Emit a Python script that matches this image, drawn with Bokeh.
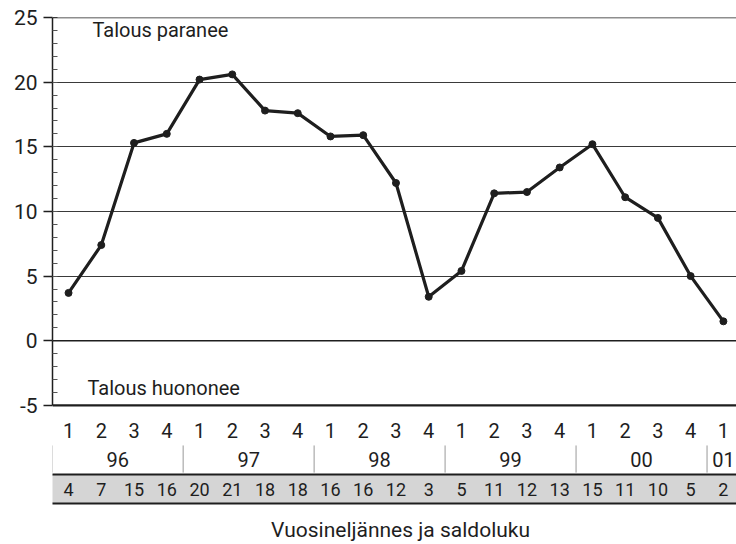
from bokeh.plotting import figure
from bokeh.models import Range1d, SingleIntervalTicker, FixedTicker, Span
from bokeh.core.properties import value
from bokeh.embed import file_html
from bokeh.resources import INLINE

# ---- data ----
quarters = ["1", "2", "3", "4"] * 5 + ["1"]
years = ["96", "97", "98", "99", "00", "01"]
year_quarters = [4, 4, 4, 4, 4, 1]
saldo_index = [3.7, 7.4, 15.3, 16.0, 20.2, 20.6, 17.8, 17.6, 15.8, 15.9, 12.2,
               3.4, 5.4, 11.4, 11.5, 13.4, 15.2, 11.1, 9.5, 5.0, 1.5]
saldo_rounded = [4, 7, 15, 16, 20, 21, 18, 18, 16, 16, 12, 3, 5, 11, 12, 13, 15, 11, 10, 5, 2]
y_min, y_max = -5, 25
label_up = "Talous paranee"
label_down = "Talous huononee"
x_title = "Vuosineljännes ja saldoluku"

FNAME = "Roboto"
FONT = value(FNAME)
INK = "#1e1e1e"

x = list(range(len(saldo_index)))

p = figure(width=736, height=544, x_range=Range1d(-0.49, 20.4), y_range=Range1d(-15.76, 25),
           output_backend="svg", toolbar_location=None, x_axis_location=None,
           min_border_left=52, min_border_right=0, min_border_top=17, min_border_bottom=0)
p.outline_line_color = None
p.background_fill_color = "white"
p.border_fill_color = "white"
p.xgrid.visible = False

# y axis
ax = p.yaxis[0]
ax.ticker = SingleIntervalTicker(interval=5, num_minor_ticks=5)
ax.bounds = (y_min, y_max)
ax.major_label_overrides = {-5: "-5"}
ax.major_tick_in = 0
ax.major_tick_out = 9
ax.minor_tick_in = 5
ax.minor_tick_out = 0
ax.major_label_standoff = 6
ax.axis_line_width = 1.5
ax.axis_line_color = INK
ax.major_tick_line_color = INK
ax.major_tick_line_width = 1.5
ax.minor_tick_line_color = "#555555"
ax.major_label_text_font = FNAME
ax.major_label_text_font_size = "21px"
ax.major_label_text_color = INK

# grid
p.ygrid.ticker = FixedTicker(ticks=[5, 10, 15, 20])
p.ygrid.grid_line_color = "#3a3a3a"
p.ygrid.grid_line_width = 1
p.add_layout(Span(location=y_max, dimension="width", line_color=INK, line_width=1.5))
p.add_layout(Span(location=0, dimension="width", line_color=INK, line_width=1.5))
p.add_layout(Span(location=y_min, dimension="width", line_color=INK, line_width=2.2))

# series
p.line(x, saldo_index, line_width=3.2, line_color=INK)
p.scatter(x, saldo_index, size=7, color=INK)

# annotations inside plot
p.text(x=[0.73], y=[24.0], text=[label_up], text_font=FONT, text_font_size="20px",
       text_color=INK, text_baseline="middle", text_align="left")
p.text(x=[0.58], y=[-3.69], text=[label_down], text_font=FONT, text_font_size="20px",
       text_color=INK, text_baseline="middle", text_align="left")

# quarter row
p.text(x=x, y=[-6.94] * len(x), text=quarters, text_font=FONT, text_font_size="20px",
       text_color=INK, text_baseline="middle", text_align="center")

# year row
starts = []
s = 0
for n in year_quarters:
    starts.append(s)
    s += n
centers = [st + (n - 1) / 2 for st, n in zip(starts, year_quarters)]
p.text(x=centers, y=[-9.18] * len(years), text=years, text_font=FONT, text_font_size="20px",
       text_color=INK, text_baseline="middle", text_align="center")
seps = [st - 0.5 for st in starts]
p.segment(x0=seps, y0=[-8.1] * len(seps), x1=seps, y1=[-10.2] * len(seps),
          line_color="#999999", line_width=1)

# saldo band
p.quad(left=[-0.6], right=[20.6], bottom=[-12.59], top=[-10.34],
       fill_color="#d5d5d5", line_color=None)
p.segment(x0=[-0.6, -0.6], y0=[-10.34, -12.59], x1=[20.6, 20.6], y1=[-10.34, -12.59],
          line_color=INK, line_width=2)
p.text(x=x, y=[-11.5] * len(x), text=[str(v) for v in saldo_rounded], text_font=FONT,
       text_font_size="18px", text_color=INK, text_baseline="middle", text_align="center")

# x title
p.text(x=[10.14], y=[-14.67], text=[x_title], text_font=FONT, text_font_size="21px",
       text_color=INK, text_baseline="middle", text_align="center")

open("out.html", "w").write(file_html(p, INLINE))
